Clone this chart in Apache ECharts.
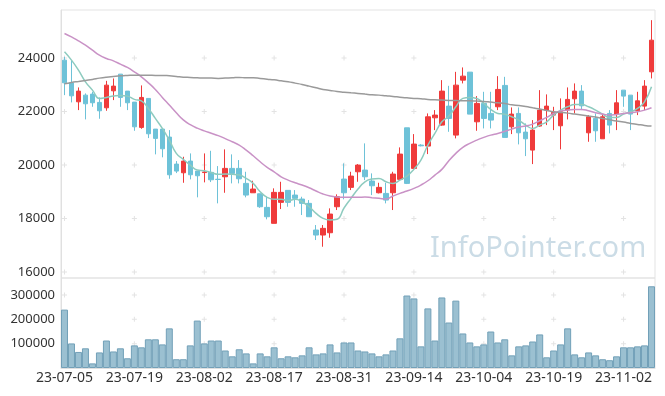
<!DOCTYPE html>
<html>
<head>
<meta charset="utf-8">
<script src="https://cdn.jsdelivr.net/npm/echarts@6/dist/echarts.min.js"></script>
<style>html,body{margin:0;padding:0;background:#fff;}#c{width:665px;height:396px;}</style>
</head>
<body>
<div id="c"></div>
<script>
var dates = ['23-07-05','23-07-06','23-07-07','23-07-10','23-07-11','23-07-12','23-07-13','23-07-14','23-07-17','23-07-18',
'23-07-19','23-07-20','23-07-21','23-07-24','23-07-25','23-07-26','23-07-27','23-07-28','23-07-31','23-08-01',
'23-08-02','23-08-03','23-08-04','23-08-07','23-08-08','23-08-09','23-08-10','23-08-11','23-08-14','23-08-16',
'23-08-17','23-08-18','23-08-21','23-08-22','23-08-23','23-08-24','23-08-25','23-08-28','23-08-29','23-08-30',
'23-08-31','23-09-01','23-09-04','23-09-05','23-09-06','23-09-07','23-09-08','23-09-11','23-09-12','23-09-13',
'23-09-14','23-09-15','23-09-18','23-09-19','23-09-20','23-09-21','23-09-22','23-09-25','23-09-26','23-09-27',
'23-10-04','23-10-05','23-10-06','23-10-10','23-10-11','23-10-12','23-10-13','23-10-16','23-10-17','23-10-18',
'23-10-19','23-10-20','23-10-23','23-10-24','23-10-25','23-10-26','23-10-27','23-10-30','23-10-31','23-11-01',
'23-11-02','23-11-03','23-11-06','23-11-07','23-11-08'];

// [open, close, low, high]
var ohlc = [
[23925,23076,22616,24048],[23076,22590,22344,23925],[22366,22766,22056,22904],[22616,22292,21708,22680],[22654,22330,22180,22740],
[22344,22030,21732,22530],[22142,22990,22030,23150],[22777,22953,22430,23240],[23401,22530,22180,23401],[22766,22330,22056,22766],
[22355,21431,21282,22355],[21409,22530,21357,22979],[22493,21170,21009,22493],[21345,20998,20400,21345],[21345,20609,20290,21345],
[21046,19637,19488,21308],[20037,19775,19700,20149],[19712,20149,19338,20310],[20149,19637,19465,20436],[19775,19600,18793,19775],
[19720,19740,19353,20436],[19727,19450,19364,20534],[19470,19460,18568,19962],[19562,19876,18964,20587],[19876,19689,19315,20400],
[19876,19488,19315,20187],[19315,18878,18793,19749],[18964,19103,18964,19413],[18927,18441,18400,18927],[18418,18067,17970,18815],
[17820,18979,17820,19129],[18605,18979,18355,19375],[19054,18605,18441,19054],[18878,18755,18441,19065],[18729,18568,18131,18815],
[18568,18067,18067,18691],[17570,17383,17196,17757],[17383,17633,16946,17757],[17469,18168,17282,18381],[18441,18815,18318,18904],
[19476,18964,18718,20063],[19166,19588,19065,19749],[19749,20000,19375,20037],[19813,19562,19439,20811],[19402,19226,18878,19689],
[18964,19166,18940,19338],[18940,18691,18568,19338],[18964,19663,18318,19749],[19465,20411,19439,20661],[21394,19315,19290,21394],
[19876,20785,19840,21158],[20747,20720,20700,20780],[20710,21805,20411,21932],[21768,21869,21308,22056],[21495,22766,21469,23177],
[22205,21745,21245,22964],[21121,22990,20998,23487],[23177,23326,23054,23652],[23476,21906,21906,23476],[21618,22306,21282,22579],
[22306,21745,21371,22740],[21932,21682,21371,22740],[22180,22829,22056,23326],[22979,21035,21035,23300],[21431,21906,21158,22156],
[21932,21207,20773,22156],[21233,20983,20336,21558],[20560,21308,20037,21682],[21458,22056,21432,22803],[22056,22205,21495,22643],
[21869,21970,21308,22179],[21469,21992,20587,22493],[22056,22456,21708,22904],[22478,22766,21932,23054],[22766,22216,22056,22990],
[21207,21805,20871,21869],[21745,21282,20871,21932],[20983,21805,20983,21906],[21932,21495,21184,22056],[21906,22328,21308,22803],
[22803,22579,22180,22803],[22616,21906,21308,22616],[22030,22403,21869,22740],[22205,22953,22056,23177],[23487,24672,23240,25420]
];

var volume = [240000,101000,66000,81000,19000,64000,113000,68000,81000,40000,
93000,85000,118000,118000,97000,163000,36000,36000,93000,195000,
101000,113000,113000,72000,48000,77000,60000,19000,60000,48000,
85000,40000,48000,44000,52000,85000,56000,60000,97000,64000,
105000,105000,72000,68000,60000,48000,56000,72000,122000,298000,
286000,89000,245000,113000,290000,187000,277000,142000,105000,89000,
97000,150000,105000,118000,52000,89000,93000,109000,138000,44000,
72000,97000,163000,56000,44000,64000,52000,36000,32000,48000,
85000,85000,89000,93000,336000];

var ma5 = [24235,23925,23551,23113,22803,22493,22530,22579,22605,22579,
22456,22403,22119,21745,21371,20934,20436,20213,20000,19813,
19787,19720,19652,19663,19652,19626,19502,19315,19002,18793,
18718,18718,18665,18718,18628,18441,18194,18007,17944,17970,
18393,18755,19103,19375,19476,19502,19375,19315,19439,19588,
19839,20187,20747,21184,21618,21831,22179,22493,22530,22493,
22306,22082,21932,21900,21805,21682,21495,21371,21495,21618,
21869,22056,22179,22269,22269,22179,22056,21906,21782,21782,
21906,21992,22119,22366,22927];

var ma20 = [24923,24796,24646,24485,24298,24111,23988,23899,23775,23652,
23487,23300,23076,22829,22530,22243,21955,21690,21510,21380,
21280,21190,21100,20990,20871,20747,20560,20348,20123,19914,
19749,19562,19439,19338,19252,19151,19028,18916,18841,18804,
18793,18793,18793,18804,18778,18755,18729,18841,18941,19028,
19129,19252,19413,19626,19839,20160,20436,20661,20811,20934,
21035,21121,21184,21259,21345,21420,21458,21532,21656,21782,
21932,22018,22056,22082,22082,22030,21955,21906,21869,21894,
21932,21955,21992,22056,22142];

var ma60 = [23039,23091,23128,23166,23203,23252,23289,23315,23338,23353,
23364,23364,23364,23353,23353,23338,23315,23289,23278,23263,
23252,23252,23240,23252,23263,23278,23263,23263,23240,23214,
23188,23151,23113,23065,23016,22953,22890,22829,22792,22754,
22728,22703,22680,22654,22628,22616,22590,22568,22541,22515,
22493,22478,22456,22441,22430,22418,22418,22403,22403,22392,
22381,22355,22328,22306,22254,22231,22194,22142,22093,22044,
21992,21970,21943,21906,21869,21831,21794,21745,21693,21644,
21607,21558,21521,21484,21458];

var priceTicks = [16000,18000,20000,22000,24000];
var volumeTicks = [100000,200000,300000];
var labelEvery = 10;

var FONT = 'Noto Sans';
var crossMain = [], crossVol = [];
for (var i = 0; i < dates.length; i += labelEvery) {
  priceTicks.forEach(function(t){ crossMain.push([dates[i], t]); });
  volumeTicks.forEach(function(t){ crossVol.push([dates[i], t]); });
}
var plus = 'path://M2,0H3V2H5V3H3V5H2V3H0V2H2Z';
function plain(v){ return String(v); }

var chart = echarts.init(document.getElementById('c'), null, {renderer:'canvas'});
chart.setOption({
  animation: false,
  backgroundColor: '#fff',
  grid: [
    {left:61, right:10, top:10, height:268, show:true, borderColor:'#e3e3e3', borderWidth:1},
    {left:61, right:10, top:278, height:90, show:true, borderColor:'#e3e3e3', borderWidth:1}
  ],
  xAxis: [
    {type:'category', gridIndex:0, data:dates, boundaryGap:true,
     axisLine:{show:false}, axisTick:{show:false}, axisLabel:{show:false}, splitLine:{show:false}},
    {type:'category', gridIndex:1, data:dates, boundaryGap:true,
     axisLine:{show:true, lineStyle:{color:'#e0e0e0'}}, axisTick:{show:false},
     axisLabel:{interval:labelEvery-1, color:'#333', fontSize:14, fontFamily:FONT, margin:3},
     splitLine:{show:false}}
  ],
  yAxis: [
    {type:'value', gridIndex:0, min:15776, max:25800, scale:true,
     axisLine:{show:true, lineStyle:{color:'#e0e0e0'}}, axisTick:{show:false},
     axisLabel:{customValues:priceTicks, formatter:plain, color:'#333', fontSize:13, fontFamily:FONT, margin:6},
     splitLine:{show:false}},
    {type:'value', gridIndex:1, min:0, max:370000,
     axisLine:{show:true, lineStyle:{color:'#e0e0e0'}}, axisTick:{show:false},
     axisLabel:{customValues:volumeTicks, formatter:plain, color:'#333', fontSize:13, fontFamily:FONT, margin:6},
     splitLine:{show:false}}
  ],
  graphic: [
    {type:'text', left:430, top:234, z:0, silent:true,
     style:{text:'InfoPointer.com', fill:'#cbdce6', font:'29px "Noto Sans"'}}
  ],
  series: [
    {type:'scatter', xAxisIndex:0, yAxisIndex:0, data:crossMain, symbol:plus, symbolSize:5,
     itemStyle:{color:'#dcdcdc'}, silent:true, z:1},
    {type:'scatter', xAxisIndex:1, yAxisIndex:1, data:crossVol, symbol:plus, symbolSize:5,
     itemStyle:{color:'#dcdcdc'}, silent:true, z:1},
    {type:'candlestick', xAxisIndex:0, yAxisIndex:0, data:ohlc, barWidth:5, z:3,
     itemStyle:{color:'#ef3b3b', color0:'#6ec2d8', borderColor:'#ef3b3b', borderColor0:'#6ec2d8', borderWidth:1}},
    {type:'line', xAxisIndex:0, yAxisIndex:0, data:ma5, smooth:true, showSymbol:false, z:4,
     lineStyle:{color:'#8ecbbf', width:1.5}},
    {type:'line', xAxisIndex:0, yAxisIndex:0, data:ma20, smooth:true, showSymbol:false, z:4,
     lineStyle:{color:'#c992c6', width:1.5}},
    {type:'line', xAxisIndex:0, yAxisIndex:0, data:ma60, smooth:true, showSymbol:false, z:4,
     lineStyle:{color:'#9a9a9a', width:1.5}},
    {type:'bar', xAxisIndex:1, yAxisIndex:1, data:volume, barCategoryGap:'0%', z:3,
     itemStyle:{color:'#9bc0d1', borderColor:'#72a0b8', borderWidth:1}}
  ]
});
</script>
</body>
</html>
